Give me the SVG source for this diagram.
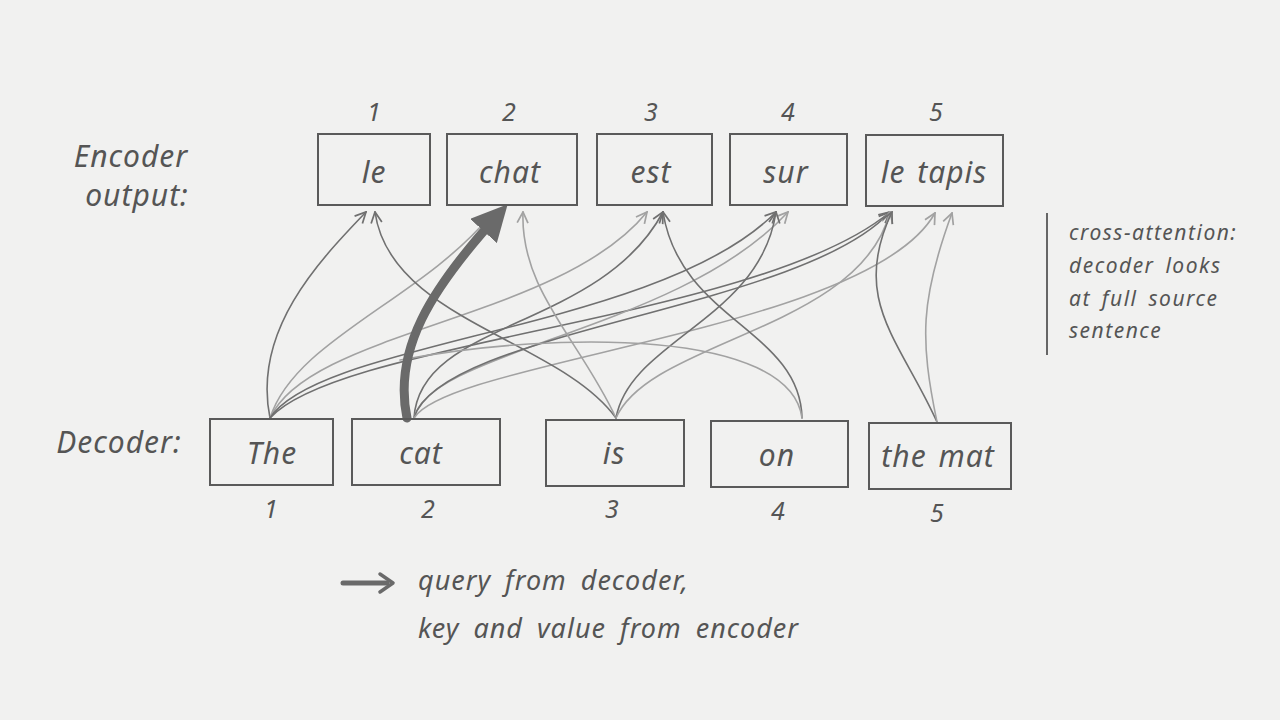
<svg xmlns="http://www.w3.org/2000/svg" width="1280" height="720" viewBox="0 0 1280 720">
<style>
.bg{fill:#f1f1f0}
.box rect{fill:none;stroke:#5a5a5a;stroke-width:2}
.t{font-family:"Noto Sans","DejaVu Sans",sans-serif;fill:#555;font-style:italic}
.lab{font-size:30px;text-anchor:middle;letter-spacing:1px;word-spacing:3px}
.num{font-size:25px;text-anchor:middle}
.side{font-size:21px;letter-spacing:1.5px;word-spacing:4px}
.leg{font-size:27px;letter-spacing:1px;word-spacing:6px}
.a{fill:none;stroke-width:1.6;stroke-linecap:round}
.d{stroke:#707070}
.l{stroke:#a2a2a2}
</style>
<defs>
<marker id="hd" viewBox="0 0 12 12" refX="11" refY="6" markerWidth="13" markerHeight="13" markerUnits="userSpaceOnUse" orient="auto">
<path d="M1,1 L11,6 L1,11" fill="none" stroke="#707070" stroke-width="1.6"/>
</marker>
<marker id="hl" viewBox="0 0 12 12" refX="11" refY="6" markerWidth="13" markerHeight="13" markerUnits="userSpaceOnUse" orient="auto">
<path d="M1,1 L11,6 L1,11" fill="none" stroke="#a2a2a2" stroke-width="1.6"/>
</marker>
<marker id="hb" viewBox="0 0 10 10" refX="6" refY="5" markerWidth="4" markerHeight="4" orient="auto">
<path d="M0,0 L10,5 L0,10 Z" fill="#6a6a6a"/>
</marker>
</defs>
<rect class="bg" width="1280" height="720"/>

<text class="t lab" x="131" y="167">Encoder</text>
<text class="t lab" x="137" y="206">output:</text>
<text class="t lab" x="119" y="453">Decoder:</text>

<g id="connectors">
<path class="a d" marker-end="url(#hd)" d="M270,418 C252,330 320,260 366,212"/>
<path class="a l" marker-end="url(#hl)" d="M270,418 C295,340 420,300 490,216"/>
<path class="a l" marker-end="url(#hl)" d="M270,418 C310,330 560,320 647,212"/>
<path class="a d" marker-end="url(#hd)" d="M270,418 C320,340 660,330 776,212"/>
<path class="a d" marker-end="url(#hd)" d="M270,418 C340,340 760,320 890,212"/>
<path class="a d" marker-end="url(#hd)" d="M414,418 C420,320 600,330 663,212"/>
<path class="a l" marker-end="url(#hl)" d="M414,418 C430,350 680,330 788,212"/>
<path class="a d" marker-end="url(#hd)" d="M414,418 C440,330 800,310 890,212"/>
<path class="a l" marker-end="url(#hl)" d="M414,418 C450,360 870,330 935,213"/>
<path class="a d" marker-end="url(#hd)" d="M616,418 C560,340 390,320 375,212"/>
<path class="a l" marker-end="url(#hl)" d="M616,418 C580,340 520,290 523,212"/>
<path class="a d" marker-end="url(#hd)" d="M616,418 C630,340 760,320 776,212"/>
<path class="a l" marker-end="url(#hl)" d="M616,418 C650,340 860,330 890,212"/>
<path class="a d" marker-end="url(#hd)" d="M802,418 C800,330 680,320 663,212"/>
<path class="a l" d="M802,418 C790,330 560,330 400,360"/>
<path class="a d" marker-end="url(#hd)" d="M937,422 C900,340 850,300 892,212"/>
<path class="a l" marker-end="url(#hl)" d="M937,422 C920,340 920,300 952,213"/>
<path d="M407,418 C393,350 430,290 498,215" fill="none" stroke="#6a6a6a" stroke-width="9" stroke-linecap="round" marker-end="url(#hb)"/>
</g>

<g id="enc1" class="box"><rect x="318" y="134" width="112" height="71"/><text class="t lab" x="374" y="183">le</text><text class="t num" x="374" y="121">1</text></g>
<g id="enc2" class="box"><rect x="447" y="134" width="130" height="71"/><text class="t lab" x="510" y="183">chat</text><text class="t num" x="509" y="121">2</text></g>
<g id="enc3" class="box"><rect x="597" y="134" width="115" height="71"/><text class="t lab" x="651" y="183">est</text><text class="t num" x="651" y="121">3</text></g>
<g id="enc4" class="box"><rect x="730" y="134" width="117" height="71"/><text class="t lab" x="786" y="183">sur</text><text class="t num" x="788" y="121">4</text></g>
<g id="enc5" class="box"><rect x="866" y="135" width="137" height="71"/><text class="t lab" x="934" y="183">le tapis</text><text class="t num" x="936" y="121">5</text></g>

<g id="dec1" class="box"><rect x="210" y="419" width="123" height="66"/><text class="t lab" x="272" y="464">The</text><text class="t num" x="271" y="518">1</text></g>
<g id="dec2" class="box"><rect x="352" y="419" width="148" height="66"/><text class="t lab" x="421" y="464">cat</text><text class="t num" x="428" y="518">2</text></g>
<g id="dec3" class="box"><rect x="546" y="420" width="138" height="66"/><text class="t lab" x="614" y="464">is</text><text class="t num" x="612" y="518">3</text></g>
<g id="dec4" class="box"><rect x="711" y="421" width="137" height="66"/><text class="t lab" x="777" y="466">on</text><text class="t num" x="778" y="520">4</text></g>
<g id="dec5" class="box"><rect x="869" y="423" width="142" height="66"/><text class="t lab" x="938" y="467">the mat</text><text class="t num" x="937" y="522">5</text></g>

<g id="note">
<line x1="1047" y1="213" x2="1047" y2="355" stroke="#666" stroke-width="2"/>
<text class="t side" x="1069" y="240">cross-attention:</text>
<text class="t side" x="1069" y="273">decoder looks</text>
<text class="t side" x="1069" y="306">at full source</text>
<text class="t side" x="1069" y="338">sentence</text>
</g>

<g id="legend">
<line x1="343" y1="583" x2="387" y2="583" stroke="#6a6a6a" stroke-width="5" stroke-linecap="round"/>
<path d="M380,574 L393,583 L380,592" fill="none" stroke="#6a6a6a" stroke-width="3.5" stroke-linecap="round" stroke-linejoin="round"/>
<text class="t leg" x="418" y="590">query from decoder,</text>
<text class="t leg" x="418" y="638">key and value from encoder</text>
</g>
</svg>
